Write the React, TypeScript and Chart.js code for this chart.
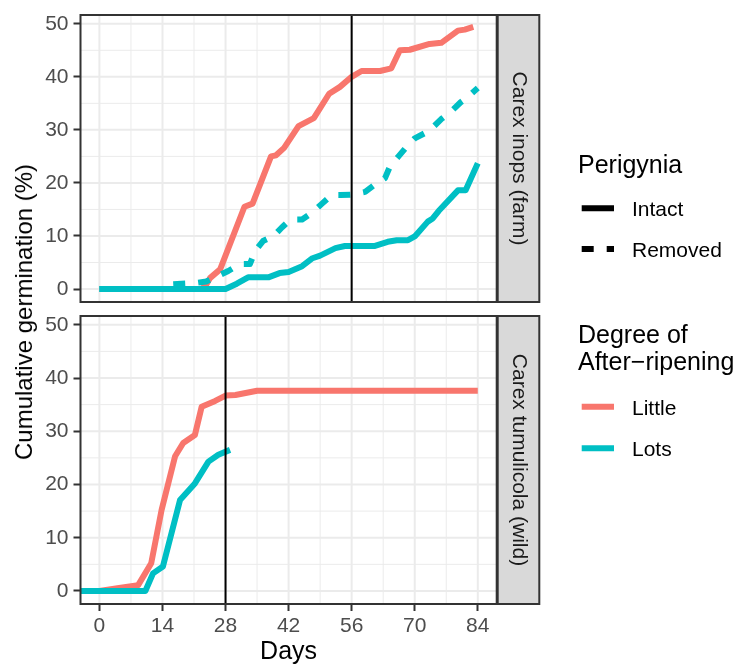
import React, { useEffect, useRef } from "react";
import { Chart, registerables } from "chart.js";

Chart.register(...registerables);

const FONT = '"Liberation Sans", Arial, Helvetica, sans-serif';
const SMALL = 21;
const BIG = 25;

// ---- Data: Carex inops (farm) ----
const inopsLittleIntactDays = [0, 22.5, 23.5, 24.6, 26.8, 32.2, 34, 38.1, 39.2, 41, 44.2, 47.6, 51, 53.4, 56, 58.2, 62.3, 64.8, 66.7, 68.9, 73.3, 75.9, 79.6, 81.1, 83];
const inopsLittleIntactPct = [0, 0, 0.5, 2.1, 3.7, 15.5, 16.1, 25, 25.2, 26.6, 30.7, 32.2, 36.8, 38.1, 40, 41.1, 41.1, 41.6, 45, 45.1, 46.2, 46.4, 48.7, 48.9, 49.4];

const inopsLotsIntactDays = [0, 28, 30.5, 33, 37.5, 40, 42, 45, 47.3, 49, 52.4, 54.5, 61, 64, 66, 68.5, 70, 72.9, 74, 75.3, 79.6, 81.3, 84];
const inopsLotsIntactPct = [0, 0, 1.0, 2.2, 2.2, 3.0, 3.2, 4.3, 5.8, 6.3, 7.7, 8.1, 8.1, 8.9, 9.2, 9.2, 9.9, 12.7, 13.3, 14.7, 18.6, 18.6, 23.7];

const inopsLotsRemovedDays = [0, 14, 16, 21, 23.7, 26.4, 28.6, 31.2, 33.4, 34.6, 36.4, 38.7, 40.5, 42.4, 45, 47.2, 49.3, 51.5, 53.5, 56, 59, 61.5, 63.4, 64.5, 66.4, 68, 70, 72.3, 73.8, 76, 78, 80.2, 81.5, 84];
const inopsLotsRemovedPct = [0, 0, 0.9, 1.1, 1.4, 2.5, 3.4, 4.7, 4.7, 7.2, 9.1, 10.0, 11.6, 13.1, 13.1, 14.4, 16.0, 17.7, 17.7, 17.8, 18.3, 19.9, 20.9, 23.1, 25.0, 26.6, 28.4, 29.4, 30.3, 32.1, 33.4, 35.2, 36.0, 37.9];

// ---- Data: Carex tumulicola (wild) ----
const tumLittleIntactDays = [-7, 0, 4, 8.6, 11.5, 13.8, 16.8, 18.6, 21.2, 22.7, 25.7, 28, 30.2, 35, 84];
const tumLittleIntactPct = [0, 0, 0.5, 1.1, 5.2, 15.2, 25.3, 27.8, 29.3, 34.6, 35.7, 36.7, 36.8, 37.6, 37.6];

const tumLotsIntactDays = [-7, 10.2, 11.9, 14.1, 17.9, 21.2, 24.2, 26.4, 29];
const tumLotsIntactPct = [0, 0, 3.3, 4.6, 17.1, 20.2, 24.3, 25.6, 26.5];

// ---- Axes / labels ----
const xTickValues = [0, 14, 28, 42, 56, 70, 84];
const xMinorValues = [7, 21, 35, 49, 63, 77];
const yTickValues = [0, 10, 20, 30, 40, 50];
const yMinorValues = [5, 15, 25, 35, 45];
const xLimits = [-4.2, 88.2];
const yLimits = [-2.45, 51.65];
const vlineInops = 56;
const vlineTum = 28;
const panelLabels = ["Carex inops (farm)", "Carex tumulicola (wild)"];
const perigyniaTitle = "Perigynia";
const perigyniaLabels = ["Intact", "Removed"];
const ripeningTitle = ["Degree of", "After\u2212ripening"];
const ripeningLabels = ["Little", "Lots"];
const yTitle = "Cumulative germination (%)";
const xTitle = "Days";
const RED = "#F8766D";
const TEAL = "#00BFC4";

const toPts = (xs: number[], ys: number[]) => xs.map((x, i) => ({ x, y: ys[i] }));

const Y_AXIS_W = 80.5;
const PAD_RIGHT = 246.3;
const STRIP_W = 42.6;

type Spec = {
  datasets: any[];
  vline: number;
  label: string;
  bottom: boolean;
  drawLegend: (ctx: CanvasRenderingContext2D) => void;
  padTop: number;
  padBottom: number;
};

function line(ctx: CanvasRenderingContext2D, x1: number, y1: number, x2: number, y2: number) {
  ctx.beginPath();
  ctx.moveTo(x1, y1);
  ctx.lineTo(x2, y2);
  ctx.stroke();
}

function buildChart(canvas: HTMLCanvasElement, spec: Spec) {
  const decor = {
    id: "panelDecor",
    beforeDatasetsDraw(chart: any) {
      const { ctx, chartArea: a, scales } = chart;
      const x = scales.x;
      const y = scales.y;
      ctx.save();
      ctx.beginPath();
      ctx.rect(a.left, a.top, a.right - a.left, a.bottom - a.top);
      ctx.clip();
      ctx.strokeStyle = "#EBEBEB";
      ctx.lineWidth = 1;
      for (const v of xMinorValues) {
        const p = x.getPixelForValue(v);
        line(ctx, p, a.top, p, a.bottom);
      }
      for (const v of yMinorValues) {
        const p = y.getPixelForValue(v);
        line(ctx, a.left, p, a.right, p);
      }
      ctx.lineWidth = 2;
      for (const v of xTickValues) {
        const p = x.getPixelForValue(v);
        line(ctx, p, a.top, p, a.bottom);
      }
      for (const v of yTickValues) {
        const p = y.getPixelForValue(v);
        line(ctx, a.left, p, a.right, p);
      }
      ctx.restore();
    },
    afterDatasetsDraw(chart: any) {
      const { ctx, chartArea: a, scales } = chart;
      const x = scales.x;
      ctx.save();
      ctx.strokeStyle = "#000000";
      ctx.lineWidth = 2;
      const vx = x.getPixelForValue(spec.vline);
      line(ctx, vx, a.top, vx, a.bottom);
      ctx.fillStyle = "#D9D9D9";
      ctx.fillRect(a.right, a.top, STRIP_W, a.bottom - a.top);
      ctx.strokeStyle = "#333333";
      ctx.lineWidth = 2;
      ctx.strokeRect(a.right + 1, a.top, STRIP_W - 1, a.bottom - a.top);
      ctx.strokeRect(a.left, a.top, a.right - a.left, a.bottom - a.top);
      ctx.fillStyle = "#1A1A1A";
      ctx.font = `${SMALL}px ${FONT}`;
      ctx.textAlign = "center";
      ctx.textBaseline = "middle";
      ctx.translate(a.right + STRIP_W / 2 + 0.5, (a.top + a.bottom) / 2);
      ctx.rotate(Math.PI / 2);
      ctx.fillText(spec.label, 0, 0);
      ctx.restore();
    },
    afterDraw(chart: any) {
      spec.drawLegend(chart.ctx);
    },
  };

  return new Chart(canvas, {
    type: "line",
    data: { datasets: spec.datasets },
    options: {
      responsive: false,
      animation: false,
      events: [],
      layout: { padding: { left: 0, right: PAD_RIGHT, top: spec.padTop, bottom: spec.padBottom } },
      elements: { point: { radius: 0 }, line: { tension: 0, borderJoinStyle: "round", borderCapStyle: "butt" } },
      plugins: { legend: { display: false }, tooltip: { enabled: false } },
      scales: {
        x: {
          type: "linear",
          min: xLimits[0],
          max: xLimits[1],
          display: spec.bottom,
          afterBuildTicks: (s: any) => {
            s.ticks = xTickValues.map((v) => ({ value: v }));
          },
          afterFit: (s: any) => {
            s.height = spec.bottom ? 63 : 0;
            s.paddingLeft = 0;
            s.paddingRight = 0;
          },
          grid: { display: true, drawOnChartArea: false, drawTicks: true, tickLength: 7, tickWidth: 2, tickColor: "#333333", color: "#333333" },
          border: { display: false },
          ticks: { color: "#4D4D4D", font: { family: FONT, size: SMALL }, padding: 3, maxRotation: 0, autoSkip: false },
          title: { display: true, text: xTitle, color: "#000000", font: { family: FONT, size: BIG }, padding: { top: 0, bottom: 0 } },
        },
        y: {
          type: "linear",
          min: yLimits[0],
          max: yLimits[1],
          afterBuildTicks: (s: any) => {
            s.ticks = yTickValues.map((v) => ({ value: v }));
          },
          afterFit: (s: any) => {
            s.width = Y_AXIS_W;
            s.paddingTop = 0;
            s.paddingBottom = 0;
          },
          grid: { display: true, drawOnChartArea: false, drawTicks: true, tickLength: 7, tickWidth: 2, tickColor: "#333333", color: "#333333" },
          border: { display: false },
          ticks: { color: "#4D4D4D", font: { family: FONT, size: SMALL }, padding: 5 },
        },
      },
    } as any,
    plugins: [decor],
  });
}

function drawPerigyniaLegend(ctx: CanvasRenderingContext2D) {
  ctx.save();
  ctx.fillStyle = "#000000";
  ctx.textAlign = "left";
  ctx.textBaseline = "alphabetic";
  ctx.font = `${BIG}px ${FONT}`;
  ctx.fillText(perigyniaTitle, 578, 172.7);
  ctx.strokeStyle = "#000000";
  ctx.lineWidth = 6;
  ctx.lineCap = "butt";
  line(ctx, 581.7, 208.3, 614, 208.3);
  ctx.setLineDash([12, 13]);
  line(ctx, 581.7, 249, 614, 249);
  ctx.setLineDash([]);
  ctx.font = `${SMALL}px ${FONT}`;
  ctx.fillText(perigyniaLabels[0], 632, 216);
  ctx.fillText(perigyniaLabels[1], 632, 256.7);
  ctx.restore();
}

function drawRipeningLegend(ctx: CanvasRenderingContext2D) {
  const off = 310;
  ctx.save();
  ctx.fillStyle = "#000000";
  ctx.textAlign = "left";
  ctx.textBaseline = "alphabetic";
  ctx.font = `${BIG}px ${FONT}`;
  ctx.fillText(ripeningTitle[0], 578, 343.3 - off);
  ctx.fillText(ripeningTitle[1], 578, 370 - off);
  ctx.lineWidth = 6;
  ctx.lineCap = "butt";
  ctx.strokeStyle = RED;
  line(ctx, 581.7, 406.7 - off, 614, 406.7 - off);
  ctx.strokeStyle = TEAL;
  line(ctx, 581.7, 448.3 - off, 614, 448.3 - off);
  ctx.font = `${SMALL}px ${FONT}`;
  ctx.fillText(ripeningLabels[0], 632, 415 - off);
  ctx.fillText(ripeningLabels[1], 632, 455.7 - off);
  ctx.restore();
}

export default function App() {
  const topRef = useRef<HTMLCanvasElement>(null);
  const botRef = useRef<HTMLCanvasElement>(null);

  useEffect(() => {
    const common = { borderWidth: 6, pointRadius: 0, fill: false, clip: 0 };
    const c1 = buildChart(topRef.current as HTMLCanvasElement, {
      datasets: [
        { ...common, label: "Lots / Intact", data: toPts(inopsLotsIntactDays, inopsLotsIntactPct), borderColor: TEAL, order: 0 },
        { ...common, label: "Lots / Removed", data: toPts(inopsLotsRemovedDays, inopsLotsRemovedPct), borderColor: TEAL, borderDash: [12, 13], order: 1 },
        { ...common, label: "Little / Intact", data: toPts(inopsLittleIntactDays, inopsLittleIntactPct), borderColor: RED, order: 2 },
      ],
      vline: vlineInops,
      label: panelLabels[0],
      bottom: false,
      drawLegend: drawPerigyniaLegend,
      padTop: 15,
      padBottom: 8,
    });
    const c2 = buildChart(botRef.current as HTMLCanvasElement, {
      datasets: [
        { ...common, label: "Lots / Intact", data: toPts(tumLotsIntactDays, tumLotsIntactPct), borderColor: TEAL, order: 0 },
        { ...common, label: "Little / Intact", data: toPts(tumLittleIntactDays, tumLittleIntactPct), borderColor: RED, order: 1 },
      ],
      vline: vlineTum,
      label: panelLabels[1],
      bottom: true,
      drawLegend: drawRipeningLegend,
      padTop: 6,
      padBottom: 0,
    });
    return () => {
      c1.destroy();
      c2.destroy();
    };
  }, []);

  return (
    <div style={{ position: "absolute", left: 0, top: 0, width: 743, height: 667, background: "#ffffff", overflow: "hidden" }}>
      <canvas ref={topRef} width={743} height={310} style={{ position: "absolute", left: 0, top: 0, width: 743, height: 310 }} />
      <canvas ref={botRef} width={743} height={357} style={{ position: "absolute", left: 0, top: 310, width: 743, height: 357 }} />
      <div
        style={{
          position: "absolute",
          left: 24,
          top: 312,
          transform: "translate(-50%, -50%) rotate(-90deg)",
          whiteSpace: "nowrap",
          fontFamily: FONT,
          fontSize: 24,
          lineHeight: 1,
          color: "#000000",
        }}
      >
        {yTitle}
      </div>
    </div>
  );
}
